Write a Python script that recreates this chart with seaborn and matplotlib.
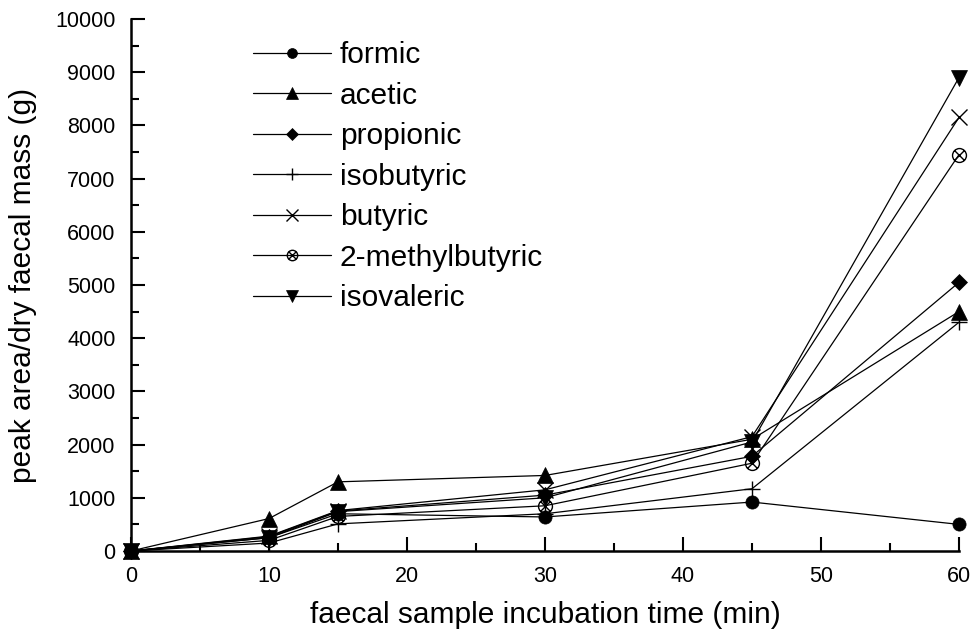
import numpy as np
import pandas as pd
import matplotlib
matplotlib.use("Agg")
import matplotlib.pyplot as plt
from matplotlib.path import Path
from matplotlib.ticker import MultipleLocator
import seaborn as sns

times = [0, 10, 15, 30, 45, 60]
formic = [0, 250, 700, 640, 920, 500]
acetic = [0, 610, 1300, 1420, 2100, 4500]
propionic = [0, 270, 750, 1050, 1780, 5050]
isobutyric = [0, 150, 510, 700, 1170, 4300]
butyric = [0, 280, 760, 1150, 2150, 8150]
methylbutyric = [0, 200, 650, 850, 1650, 7450]
isovaleric = [0, 250, 740, 1000, 2050, 8900]

names = ["formic", "acetic", "propionic", "isobutyric", "butyric",
         "2-methylbutyric", "isovaleric"]
series = [formic, acetic, propionic, isobutyric, butyric, methylbutyric, isovaleric]

sns.set_theme(style="ticks")
plt.rcParams['font.family'] = ['Liberation Sans', 'DejaVu Sans']
plt.rcParams['text.color'] = 'black'
plt.rcParams['axes.labelcolor'] = 'black'
plt.rcParams['xtick.color'] = 'black'
plt.rcParams['ytick.color'] = 'black'

# circle with cross marker
circ = Path.unit_circle()
xv = Path([(-0.72, -0.72), (0.72, 0.72), (-0.72, 0.72), (0.72, -0.72)],
          [Path.MOVETO, Path.LINETO, Path.MOVETO, Path.LINETO])
circx = Path.make_compound_path(circ, xv)

markers = {"formic": "o", "acetic": "^", "propionic": "D", "isobutyric": "+",
           "butyric": "x", "2-methylbutyric": circx, "isovaleric": "v"}
sizes = {"formic": 9.5, "acetic": 11, "propionic": 8, "isobutyric": 12,
         "butyric": 11, "2-methylbutyric": 10, "isovaleric": 11}

fig = plt.figure(figsize=(9.72, 6.32), dpi=100)
ax = fig.add_axes([131/972, 1-551/632, (959-131)/972, (551-19)/632])

for n, s in zip(names, series):
    d = pd.DataFrame({"time": times, "value": s})
    open_m = n in ("isobutyric", "butyric", "2-methylbutyric")
    sns.lineplot(data=d, x="time", y="value", marker=markers[n],
                 markersize=sizes[n], color="black", linewidth=0.9, ax=ax,
                 markeredgecolor="black",
                 markerfacecolor="none" if n == "2-methylbutyric" else "black",
                 markeredgewidth=1.0 if open_m else 0.5,
                 clip_on=False, label=n)

ax.set_xlim(0, 60)
ax.set_ylim(0, 10000)
ax.xaxis.set_major_locator(MultipleLocator(10))
ax.xaxis.set_minor_locator(MultipleLocator(5))
ax.yaxis.set_major_locator(MultipleLocator(1000))
ax.yaxis.set_minor_locator(MultipleLocator(500))
ax.tick_params(which="major", direction="in", length=10, width=1.5,
               labelsize=15.5, colors="black", labelcolor="black")
ax.tick_params(axis="x", which="major", pad=11)
ax.tick_params(axis="y", which="major", pad=11)
ax.tick_params(which="minor", direction="in", length=6, width=1.5, colors="black")
for s in ("top", "right"):
    ax.spines[s].set_visible(False)
for s in ("left", "bottom"):
    ax.spines[s].set_linewidth(1.8)
    ax.spines[s].set_color("black")

ax.set_xlabel("faecal sample incubation time (min)", fontsize=21.5, labelpad=10,
              color="black")
ax.set_ylabel("peak area/dry faecal mass (g)", fontsize=21.5, labelpad=13,
              color="black")

leg = ax.legend(loc="upper left", bbox_to_anchor=(253/972, 1-41/632),
                bbox_transform=fig.transFigure, frameon=False, fontsize=21.5,
                handlelength=2.6, handletextpad=0.3, labelspacing=0.42,
                numpoints=1, borderpad=0, borderaxespad=0, labelcolor="black")
for h in leg.legend_handles:
    h.set_markersize(h.get_markersize() * 0.75)

fig.savefig("out.png", dpi=100)
